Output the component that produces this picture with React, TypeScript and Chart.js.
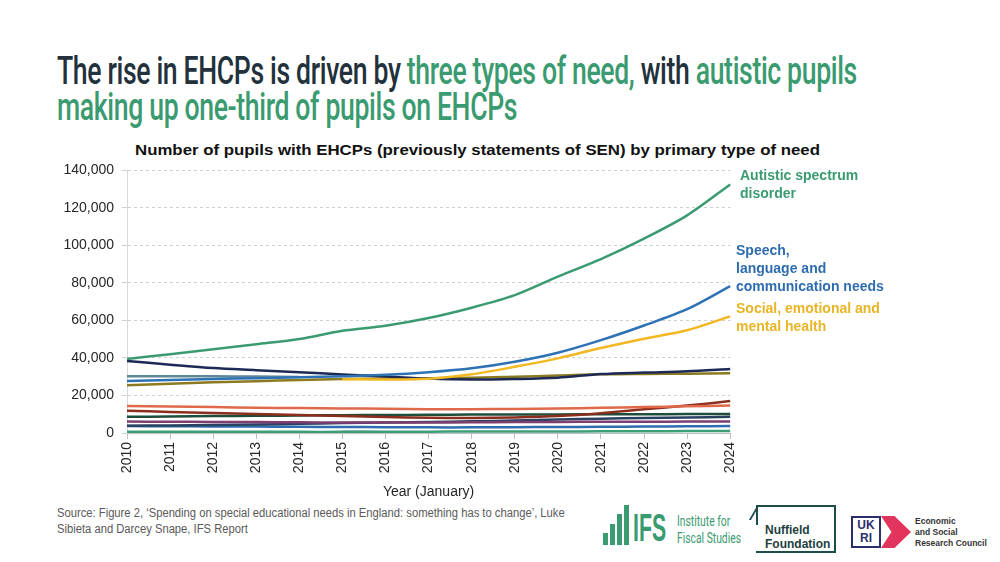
import React, { useEffect, useLayoutEffect, useRef, useState } from 'react';
import { Chart, registerables } from 'chart.js';
Chart.register(...registerables);

const years = ['2010', '2011', '2012', '2013', '2014', '2015', '2016', '2017', '2018', '2019', '2020', '2021', '2022', '2023', '2024'];
const yTicks = [0, 20000, 40000, 60000, 80000, 100000, 120000, 140000];

const autistic = [39500, 42000, 44600, 47300, 50100, 54500, 57200, 61300, 66800, 73500, 83400, 92700, 103600, 116000, 132500];
const speech = [27700, 28300, 28800, 29200, 29700, 30300, 31000, 32400, 34500, 38000, 42800, 49500, 57300, 66000, 78300];
const semh = [null, null, null, null, null, 28700, 28500, 28900, 31300, 35300, 39800, 45300, 50300, 54800, 62200];
const besd = [30200, 30300, 30200, 30100, 29900, null, null, null, null, null, null, null, null, null, null];
const mld = [38400, 36400, 34600, 33500, 32400, 31200, 30100, 29000, 28500, 28800, 29500, 31400, 32200, 32900, 34100];
const sld = [25500, 26300, 27000, 27600, 28300, 28800, 29000, 29200, 29500, 30000, 30600, 31300, 31500, 31600, 31800];
const pd = [14400, 14100, 13800, 13500, 13300, 13100, 12900, 12700, 12700, 12800, 13000, 13400, 13800, 14200, 14700];
const spld = [11900, 11200, 10600, 10100, 9600, 9000, 8500, 8100, 8000, 8300, 9000, 10500, 12600, 14600, 17000];
const pmld = [8600, 8800, 9000, 9200, 9300, 9500, 9600, 9700, 9800, 9800, 9900, 10000, 10000, 10100, 10100];
const hi = [6100, 6000, 5900, 5800, 5700, 5600, 5600, 5600, 5700, 5800, 5900, 6000, 6000, 6100, 6100];
const other = [3900, 4000, 4200, 4500, 4900, 5300, 5600, 5800, 6200, 6700, 7200, 7600, 8000, 8300, 8600];
const vi = [3700, 3600, 3500, 3400, 3300, 3200, 3100, 3000, 3000, 3100, 3200, 3300, 3400, 3600, 3700];
const msi = [600, 600, 600, 600, 600, 600, 700, 700, 800, 800, 800, 900, 900, 1000, 1000];
const nsa = [null, null, null, null, null, 400, 300, 300, null, null, null, null, null, null, null];

const GREEN = '#3a9a70';
const DARK = '#22313b';

function Fit({ width, style, children }: any) {
  const ref = useRef<HTMLDivElement>(null);
  const [sx, setSx] = useState(1);
  useLayoutEffect(() => {
    const el = ref.current;
    if (!el) return;
    const w = el.offsetWidth;
    if (w > 0) setSx(width / w);
  }, [width]);
  return (
    <div
      ref={ref}
      style={{
        position: 'absolute',
        whiteSpace: 'pre',
        display: 'inline-block',
        transformOrigin: '0 0',
        transform: `scaleX(${sx})`,
        ...style,
      }}
    >
      {children}
    </div>
  );
}

function LineChart() {
  const ref = useRef<HTMLCanvasElement>(null);
  useEffect(() => {
    if (!ref.current) return;
    Chart.defaults.font.family = "'Liberation Sans', Arial, sans-serif";
    const ds = (label: string, data: any[], color: string, width = 2.5) => ({
      label,
      data,
      borderColor: color,
      backgroundColor: color,
      borderWidth: width,
      pointRadius: 0,
      tension: 0.3,
      fill: false,
      spanGaps: false,
    });
    const chart = new Chart(ref.current, {
      type: 'line',
      data: {
        labels: years,
        datasets: [
          ds('Autistic spectrum disorder', autistic, '#3b9b70'),
          ds('Speech, language and communication needs', speech, '#2e72b6'),
          ds('Social, emotional and mental health', semh, '#f2b822'),
          ds('Moderate learning difficulty', mld, '#1c2a55'),
          ds('Behaviour, emotional and social difficulties', besd, '#5f8796'),
          ds('Severe learning difficulty', sld, '#8c7a20'),
          ds('Physical disability', pd, '#e0694a'),
          ds('Specific learning difficulty', spld, '#8b2e1e'),
          ds('Profound and multiple learning difficulty', pmld, '#1e4d3b'),
          ds('Hearing impairment', hi, '#7e3f70'),
          ds('Other difficulty', other, '#2a4160'),
          ds('Visual impairment', vi, '#2f6db0'),
          ds('Multi-sensory impairment', msi, '#3d9f76'),
          ds('No specialist assessment', nsa, '#243b2e', 3),
        ],
      },
      options: {
        animation: false,
        responsive: false,
        devicePixelRatio: 1,
        layout: { padding: { top: 10, right: 11, left: 0, bottom: 0 } },
        plugins: {
          legend: { display: false },
          tooltip: { enabled: false },
          title: { display: false },
        },
        scales: {
          x: {
            type: 'category',
            offset: false,
            grid: {
              drawOnChartArea: false,
              drawTicks: true,
              tickLength: 6,
              color: '#bfbfbf',
              tickBorderDash: [],
            },
            border: { color: '#bfbfbf', width: 1 },
            ticks: {
              minRotation: 90,
              maxRotation: 90,
              autoSkip: false,
              color: '#262626',
              font: { size: 14 },
              padding: 3,
            },
            title: {
              display: true,
              text: 'Year (January)',
              color: '#262626',
              font: { size: 14 },
              padding: { top: 4, bottom: 4 },
            },
            afterFit: (s: any) => {
              s.height = 72;
            },
          },
          y: {
            min: 0,
            max: 140000,
            afterBuildTicks: (s: any) => {
              s.ticks = yTicks.map((v) => ({ value: v }));
            },
            ticks: {
              color: '#262626',
              font: { size: 14 },
              padding: 8,
              callback: (v: any) => Number(v).toLocaleString('en-US'),
            },
            grid: {
              color: '#cfcfcf',
              tickLength: 5,
              tickBorderDash: [],
              tickColor: '#d0d0d0',
            },
            border: { color: '#d9d9d9', dash: [3, 3] },
            afterFit: (s: any) => {
              s.width = 87;
            },
          },
        },
      },
    } as any);
    return () => chart.destroy();
  }, []);
  return <canvas ref={ref} width={710} height={351} style={{ display: 'block', width: 710, height: 351 }} />;
}

export default function App() {
  const ann = {
    position: 'absolute' as const,
    fontFamily: "'Liberation Sans', Arial, sans-serif",
    fontWeight: 700,
    fontSize: 14,
    lineHeight: '18px',
    whiteSpace: 'pre' as const,
  };
  return (
    <div
      style={{
        position: 'fixed',
        left: 0,
        top: 0,
        width: 1000,
        height: 562,
        background: '#ffffff',
        overflow: 'hidden',
      }}
    >
      <Fit
        width={800}
        style={{
          left: 57,
          top: 53,
          fontFamily: 'Roboto, sans-serif',
          fontWeight: 500,
          fontSize: 38,
          lineHeight: '36px',
          letterSpacing: '-0.5px',
          color: GREEN,
        }}
      >
        <span style={{ color: DARK }}>The rise in EHCPs is driven by </span>
        <span style={{ color: GREEN }}>three types of need,</span>
        <span style={{ color: DARK }}> with </span>
        <span style={{ color: GREEN }}>autistic pupils</span>
        {'\n'}
        <span style={{ color: GREEN }}>making up one-third of pupils on EHCPs</span>
      </Fit>

      <Fit
        width={685}
        style={{
          left: 135,
          top: 141,
          fontFamily: "'Liberation Sans', Arial, sans-serif",
          fontWeight: 700,
          fontSize: 15,
          lineHeight: '18px',
          color: '#111111',
        }}
      >
        Number of pupils with EHCPs (previously statements of SEN) by primary type of need
      </Fit>

      <div style={{ position: 'absolute', left: 40, top: 154 }}>
        <LineChart />
      </div>

      <div style={{ ...ann, left: 740, top: 166, color: '#3b9b70' }}>{'Autistic spectrum\ndisorder'}</div>
      <div style={{ ...ann, left: 736, top: 241, color: '#2e6cb0' }}>{'Speech,\nlanguage and\ncommunication needs'}</div>
      <div style={{ ...ann, left: 736, top: 299, color: '#e9b526' }}>{'Social, emotional and\nmental health'}</div>

      <Fit
        width={508}
        style={{
          left: 57,
          top: 505,
          fontFamily: "'Liberation Sans', Arial, sans-serif",
          fontSize: 12.5,
          lineHeight: '16px',
          color: '#595959',
        }}
      >
        {"Source: Figure 2, \u2018Spending on special educational needs in England: something has to change\u2019, Luke\nSibieta and Darcey Snape, IFS Report"}
      </Fit>

      {/* IFS logo */}
      <div style={{ position: 'absolute', left: 603, top: 533, width: 5, height: 12, background: GREEN }} />
      <div style={{ position: 'absolute', left: 610, top: 524, width: 5, height: 21, background: GREEN }} />
      <div style={{ position: 'absolute', left: 617, top: 514, width: 5, height: 31, background: GREEN }} />
      <div style={{ position: 'absolute', left: 624, top: 505, width: 5, height: 40, background: GREEN }} />
      <Fit
        width={33}
        style={{
          left: 633,
          top: 507,
          fontFamily: "'Liberation Sans', Arial, sans-serif",
          fontWeight: 700,
          fontSize: 38,
          lineHeight: '42px',
          color: GREEN,
        }}
      >
        IFS
      </Fit>
      <Fit
        width={64}
        style={{
          left: 677,
          top: 513,
          fontFamily: 'Roboto, sans-serif',
          fontSize: 15,
          lineHeight: '17px',
          color: GREEN,
        }}
      >
        {'Institute for\nFiscal Studies'}
      </Fit>

      {/* Nuffield logo */}
      <div
        style={{
          position: 'absolute',
          left: 756,
          top: 505,
          width: 80,
          height: 48,
          boxSizing: 'border-box',
          borderRight: '2px solid #1d4d4a',
          borderBottom: '2px solid #1d4d4a',
          borderTop: '2px solid #1d4d4a',
        }}
      />
      <div style={{ position: 'absolute', left: 756, top: 505, width: 2, height: 20, background: '#1d4d4a' }} />
      <div
        style={{
          position: 'absolute',
          left: 757,
          top: 506,
          width: 2,
          height: 14,
          background: '#1d4d4a',
          transform: 'skewX(-30deg)',
          transformOrigin: '0 0',
        }}
      />
      <div
        style={{
          position: 'absolute',
          left: 765,
          top: 523,
          fontFamily: "'Liberation Sans', Arial, sans-serif",
          fontWeight: 700,
          fontSize: 12,
          lineHeight: '14px',
          color: '#1d3f3f',
          whiteSpace: 'pre',
        }}
      >
        {'Nuffield\nFoundation'}
      </div>

      {/* UKRI / ESRC logo */}
      <div
        style={{
          position: 'absolute',
          left: 851,
          top: 516,
          width: 30,
          height: 32,
          boxSizing: 'border-box',
          border: '2px solid #2b2f6b',
          background: '#ffffff',
          fontFamily: "'Liberation Sans', Arial, sans-serif",
          fontWeight: 700,
          fontSize: 12,
          lineHeight: '13px',
          color: '#2b2f6b',
          textAlign: 'center',
          whiteSpace: 'pre',
          paddingTop: 1,
        }}
      >
        {'UK\nRI'}
      </div>
      <div
        style={{
          position: 'absolute',
          left: 881,
          top: 516,
          width: 30,
          height: 32,
          background: '#e2345c',
          clipPath: 'polygon(0 0, 45% 0, 100% 50%, 45% 100%, 0 100%, 35% 50%)',
        }}
      />
      <div
        style={{
          position: 'absolute',
          left: 915,
          top: 516,
          fontFamily: "'Liberation Sans', Arial, sans-serif",
          fontWeight: 700,
          fontSize: 8.5,
          lineHeight: '11px',
          color: '#333333',
          whiteSpace: 'pre',
        }}
      >
        {'Economic\nand Social\nResearch Council'}
      </div>
    </div>
  );
}
